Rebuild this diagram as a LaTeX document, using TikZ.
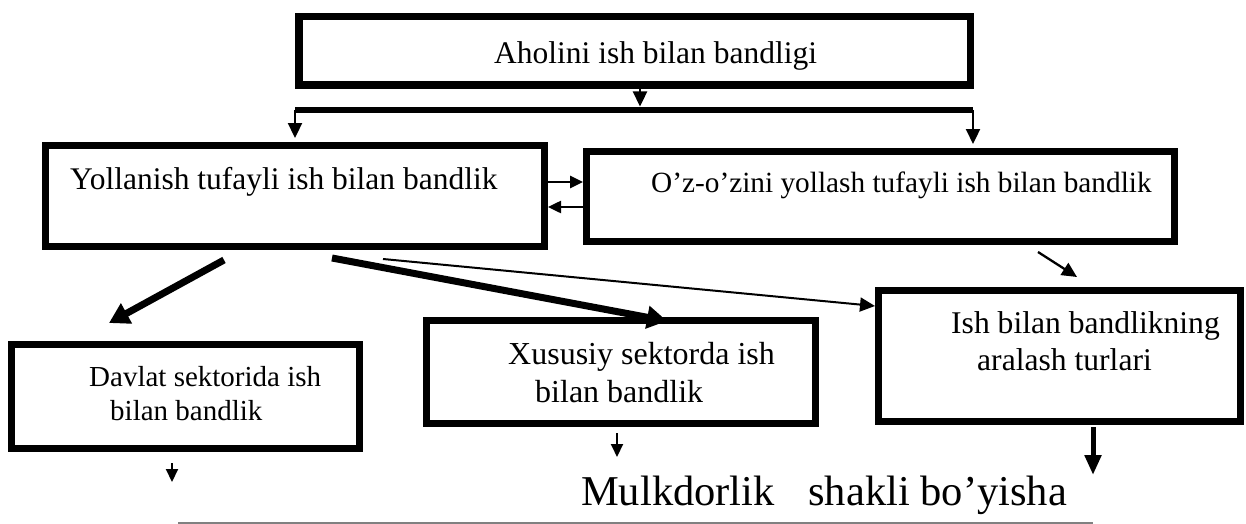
\documentclass[tikz,border=0pt]{standalone}
\usepackage{fontspec}
\setmainfont{Liberation Serif}
\usetikzlibrary{arrows.meta}
\newcommand\myfs[1]{\fontsize{#1}{#1}\selectfont}
\begin{document}
\begin{tikzpicture}[x=1pt,y=-1pt,
  box/.style={draw, line width=7pt, inner sep=0pt},
  txt/.style={anchor=base west, inner sep=0pt},
  thinarr/.style={line width=2.3pt, -{Triangle[width=14pt,length=15pt]}},
  smallarr/.style={line width=2pt, -{Triangle[width=12pt,length=13pt]}},
  thickarr/.style={line width=7pt, -{Triangle[width=22pt,length=20pt]}},
  midarr/.style={line width=5pt, -{Triangle[width=16pt,length=20pt]}}]
\useasboundingbox (0,0) rectangle (1246,524);

% boxes
\node[box, line width=7.5pt, minimum width=671.5pt, minimum height=68.5pt] (top) at (634.5,51) {};
\node[box, minimum width=499pt, minimum height=101pt] (yol) at (295,196) {};
\node[box, minimum width=588pt, minimum height=90pt] (oz) at (880.5,196.5) {};
\node[box, minimum width=348pt, minimum height=104pt] (dav) at (185.5,396.5) {};
\node[box, minimum width=389pt, minimum height=103pt] (xus) at (621,372) {};
\node[box, minimum width=362pt, minimum height=131pt] (mix) at (1059.5,356) {};

% texts
\node[txt] (toptxt) at (494,64) {\myfs{31.5}Aholini ish bilan bandligi};
\node[txt] (yoltxt) at (70,189) {\myfs{31.5}Yollanish tufayli ish bilan bandlik};
\node[txt] (oztxt) at (651,192) {\myfs{29.3}O’z-o’zini yollash tufayli ish bilan bandlik};
\node[txt] (dav1) at (89,386) {\myfs{29}Davlat sektorida ish};
\node[txt] (dav2) at (110,420) {\myfs{29}bilan bandlik};
\node[txt] (xus1) at (508,364) {\myfs{32}Xususiy sektorda ish};
\node[txt] (xus2) at (535,402) {\myfs{32}bilan bandlik};
\node[txt] (mix1) at (951,333) {\myfs{31.6}Ish bilan bandlikning};
\node[txt] (mix2) at (977,370) {\myfs{31.6}aralash turlari};
\node[txt] (mulk) at (581,505) {\myfs{42.5}Mulkdorlik\hspace{23pt} shakli bo’yisha};

% bar and top arrows
\coordinate (barL) at (295,110);
\coordinate (barR) at (973,110);
\coordinate (barM) at (640,110);
\draw[line width=6.5pt] (barL) -- (barR);
\draw[thinarr] (top.south -| barM) -- ([yshift=3.5pt]barM);
\draw[thinarr] (barL) -- ([yshift=4pt]yol.north -| barL);
\draw[thinarr] (barR) -- ([yshift=4pt]oz.north -| barR);

% double arrows
\draw[smallarr, line width=2.5pt] ([yshift=14pt]yol.east) -- ([yshift=14pt]yol.east -| oz.west);
\draw[smallarr, line width=2.5pt] ([yshift=-10.5pt]oz.west) -- ([yshift=-10.5pt]oz.west -| yol.east);

% diagonal arrows
\coordinate (s1) at (224,260);
\coordinate (e1) at (109,323);
\draw[thickarr] (s1) -- (e1);
\coordinate (s2) at (332,258);
\coordinate (e2) at (667,321);
\draw[thickarr] (s2) -- (e2);
\coordinate (s3) at (383,259);
\draw[thinarr, line width=2pt] (s3) -- (mix.west |- 0,306);
\coordinate (s4) at (1038,252);
\coordinate (e4) at (1077,277);
\draw[thinarr] (s4) -- (e4);

% down arrows
\coordinate (d1) at (172,463);
\coordinate (d1e) at (172,482);
\draw[smallarr] (d1) -- (d1e);
\coordinate (d2) at (617,433);
\coordinate (d2e) at (617,457);
\draw[smallarr] (d2) -- (d2e);
\coordinate (d3) at (1093,427);
\coordinate (d3e) at (1093,475);
\draw[midarr] (d3) -- (d3e);

% underline
\coordinate (uL) at (178,523);
\coordinate (uR) at (1093,523);
\draw[gray, line width=1.5pt] (uL) -- (uR);
\end{tikzpicture}
\end{document}
